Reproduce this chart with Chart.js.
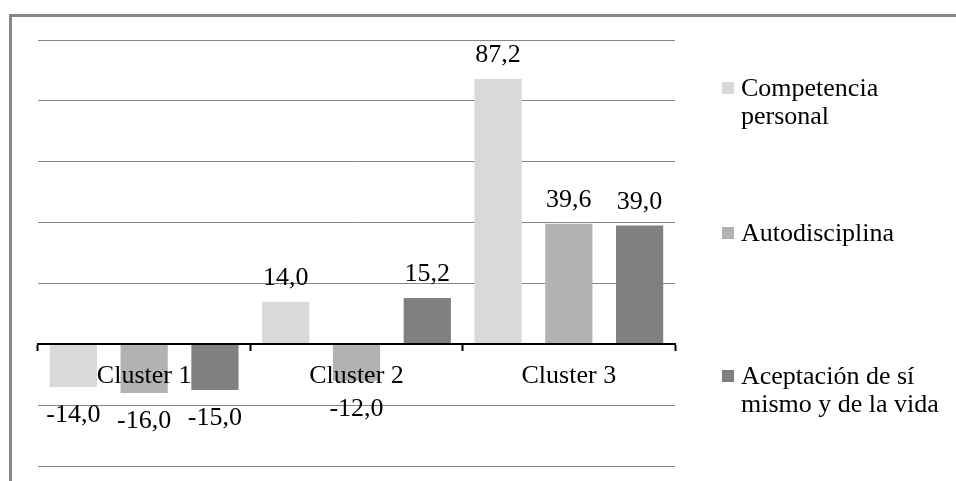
<!DOCTYPE html>
<html>
<head>
<meta charset="utf-8">
<script src="https://cdn.jsdelivr.net/npm/chart.js@4.4.1/dist/chart.umd.min.js"></script>
<style>
  html, body { margin: 0; padding: 0; background: #fff; overflow: hidden; }
  #wrap { position: relative; width: 956px; height: 481px; overflow: hidden; }
  #frame { position: absolute; left: 9px; top: 14px; width: 1200px; height: 800px;
           border-top: 3px solid #878787; border-left: 3px solid #878787; pointer-events: none; }
  canvas { position: absolute; left: 0; top: 0; }
  #legend { position: absolute; left: 722px; top: 0; width: 234px; height: 481px;
            font-family: "Liberation Serif", "Times New Roman", serif; font-size: 26px;
            line-height: 28px; color: #000; }
  .item { position: absolute; left: 0; width: 226px; }
  .swatch { position: absolute; left: 0; top: 8px; width: 12px; height: 12px; }
  .txt { margin-left: 19px; width: 205px; }
</style>
</head>
<body>
<div id="wrap">
  <canvas id="chart" width="956" height="481"></canvas>
  <div id="legend"></div>
  <div id="frame"></div>
</div>
<script>
// Categories and series values
const categories = ['Cluster 1', 'Cluster 2', 'Cluster 3'];
const seriesNames = ['Competencia personal', 'Autodisciplina', 'Aceptación de sí mismo y de la vida'];
const competenciaPersonal = [-14.0, 14.0, 87.2];
const autodisciplina = [-16.0, -12.0, 39.6];
const aceptacion = [-15.0, 15.2, 39.0];

// Value axis range (tick labels hidden, gridlines only)
const yMin = -40;
const yMax = 100;
const yStep = 20;

const seriesColors = ['#d9d9d9', '#b2b2b2', '#808080'];
const serif = '"Liberation Serif", "Times New Roman", serif';

// Value labels with decimal comma, above positive bars and below negative ones
const valueLabels = {
  id: 'valueLabels',
  afterDatasetsDraw(chart) {
    const ctx = chart.ctx;
    ctx.save();
    ctx.font = '26px ' + serif;
    ctx.fillStyle = '#000';
    ctx.textAlign = 'center';
    ctx.textBaseline = 'alphabetic';
    chart.data.datasets.forEach((ds, i) => {
      chart.getDatasetMeta(i).data.forEach((bar, j) => {
        const v = ds.data[j];
        const txt = v.toFixed(1).replace('.', ',');
        const y = v >= 0 ? bar.y - 17 : bar.y + 35;
        ctx.fillText(txt, bar.x, y);
      });
    });
    ctx.restore();
  }
};

const seriesData = [competenciaPersonal, autodisciplina, aceptacion];

const chart = new Chart(document.getElementById('chart'), {
  type: 'bar',
  data: {
    labels: categories,
    datasets: seriesNames.map((name, i) => ({
      label: name,
      data: seriesData[i],
      backgroundColor: seriesColors[i],
      borderWidth: 0,
      categoryPercentage: 1.0,
      barPercentage: 0.667
    }))
  },
  options: {
    responsive: false,
    animation: false,
    layout: { padding: { left: 38, right: 281, top: 40, bottom: 15 } },
    plugins: { legend: { display: false }, tooltip: { enabled: false } },
    scales: {
      x: {
        position: { y: 0 },
        offset: true,
        grid: { display: true, drawOnChartArea: false, drawTicks: true, tickLength: 6,
                tickColor: '#000', tickWidth: 2, offset: true, z: 1 },
        border: { display: true, color: '#000', width: 2, z: 1 },
        ticks: { color: '#000', font: { family: serif, size: 26 }, padding: 10, maxRotation: 0, z: 1 },
        afterFit(scale) { scale.height = 0; }
      },
      y: {
        min: yMin,
        max: yMax,
        ticks: { display: false, stepSize: yStep },
        grid: { color: '#868686', lineWidth: 1, drawTicks: false },
        border: { display: false }
      }
    }
  },
  plugins: [valueLabels]
});

// Legend on the right, built from the datasets
const legendTops = [74, 219, 362];
const legend = document.getElementById('legend');
chart.data.datasets.forEach((ds, i) => {
  const item = document.createElement('div');
  item.className = 'item';
  item.style.top = legendTops[i] + 'px';
  const sw = document.createElement('div');
  sw.className = 'swatch';
  sw.style.background = ds.backgroundColor;
  const txt = document.createElement('div');
  txt.className = 'txt';
  txt.textContent = ds.label;
  item.appendChild(sw);
  item.appendChild(txt);
  legend.appendChild(item);
});
</script>
</body>
</html>
